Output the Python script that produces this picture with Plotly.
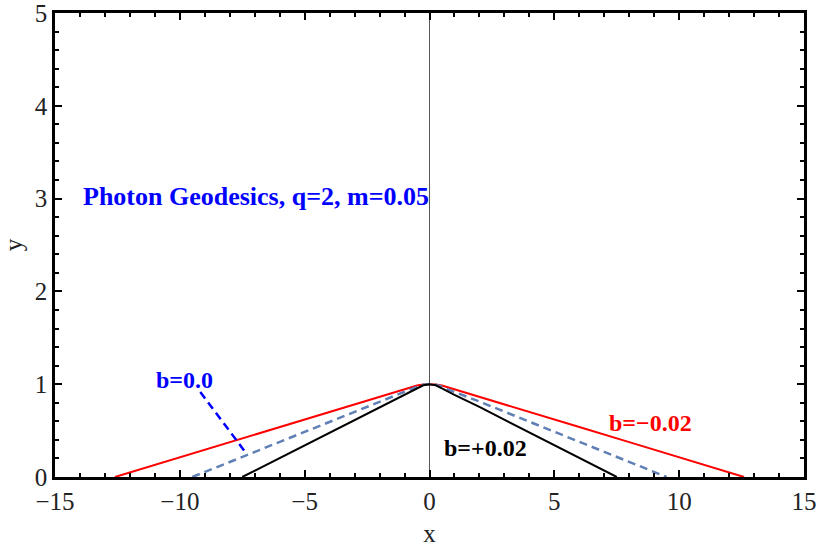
import plotly.graph_objects as go

# Data
red_x = [-12.6, -10, -8, -6, -4, -2, -1, -0.5, -0.25, 0, 0.25, 0.5, 1, 2, 4, 6, 8, 10, 12.6]
red_y = [0, 0.212, 0.376, 0.539, 0.703, 0.866, 0.945, 0.985, 0.996, 1.0, 0.996, 0.985, 0.945, 0.866, 0.703, 0.539, 0.376, 0.212, 0]

dash_x = [-9.5, -8, -6, -4, -2, -1, -0.5, -0.25, 0, 0.25, 0.5, 1, 2, 4, 6, 8, 9.5]
dash_y = [0, 0.163, 0.379, 0.596, 0.813, 0.917, 0.972, 0.993, 1.0, 0.993, 0.972, 0.917, 0.813, 0.596, 0.379, 0.163, 0]

black_x = [-7.5, -6, -4, -2, -1, -0.5, -0.25, 0, 0.25, 0.5, 1, 2, 4, 6, 7.5]
black_y = [0, 0.206, 0.481, 0.755, 0.885, 0.955, 0.988, 1.0, 0.988, 0.955, 0.885, 0.755, 0.481, 0.206, 0]

arrow_x = [-9.18, -7.36]
arrow_y = [0.916, 0.262]

vline_x = [0, 0]
vline_y = [0, 5]

labels = [
    dict(text="Photon Geodesics, q=2, m=0.05", x=-13.95, y=3.02, color="#0000ff", anchor="left", size=26),
    dict(text="b=0.0", x=-9.83, y=1.045, color="#0000ff", anchor="center", size=24),
    dict(text="b=\u22120.02", x=8.87, y=0.58, color="#ff0000", anchor="center", size=24),
    dict(text="b=+0.02", x=2.26, y=0.31, color="#000000", anchor="center", size=24),
]

FONT = "Liberation Serif, Times New Roman, serif"

fig = go.Figure()
fig.add_trace(go.Scatter(x=vline_x, y=vline_y, mode="lines",
                         line=dict(color="#555555", width=1), hoverinfo="skip"))
fig.add_trace(go.Scatter(x=red_x, y=red_y, mode="lines",
                         line=dict(color="#ff0000", width=2)))
fig.add_trace(go.Scatter(x=dash_x, y=dash_y, mode="lines",
                         line=dict(color="#5f7fb5", width=2.5, dash="8px,5px")))
fig.add_trace(go.Scatter(x=black_x, y=black_y, mode="lines",
                         line=dict(color="#000000", width=2)))
fig.add_trace(go.Scatter(x=arrow_x, y=arrow_y, mode="lines",
                         line=dict(color="#0000ff", width=2.5, dash="8px,5px")))

for lb in labels:
    fig.add_annotation(x=lb["x"], y=lb["y"], text="<b>" + lb["text"] + "</b>",
                       showarrow=False, xanchor=lb["anchor"], yanchor="middle",
                       font=dict(family=FONT, size=lb["size"], color=lb["color"]))

axis_common = dict(
    showgrid=False, zeroline=False, showline=True, linecolor="black", linewidth=2.5,
    mirror="allticks", ticks="inside", ticklen=7, tickwidth=2, tickcolor="black",
    tickfont=dict(family=FONT, size=25, color="#222222"), automargin=False,
    ticklabeloverflow="allow",
)

fig.update_xaxes(range=[-15, 15], dtick=5, tick0=0,
                 minor=dict(ticks="inside", dtick=1, ticklen=4, tickwidth=1.5, tickcolor="black"),
                 title=dict(text="x", font=dict(family=FONT, size=25, color="#222222"), standoff=13),
                 tickformat="d", **axis_common)
fig.update_yaxes(range=[0, 5], dtick=1, tick0=0,
                 minor=dict(ticks="inside", dtick=0.2, ticklen=4, tickwidth=1.5, tickcolor="black"),
                 title=dict(text="y", font=dict(family=FONT, size=25, color="#222222"), standoff=12),
                 **axis_common)

fig.update_layout(
    width=820, height=547,
    margin=dict(l=55, r=16, t=13, b=70),
    plot_bgcolor="white", paper_bgcolor="white",
    showlegend=False,
    separators=".\u2212",
)

fig.write_html("out.html", config={"displayModeBar": False},
               post_script="document.body.style.margin='0';document.body.style.overflow='hidden';")
